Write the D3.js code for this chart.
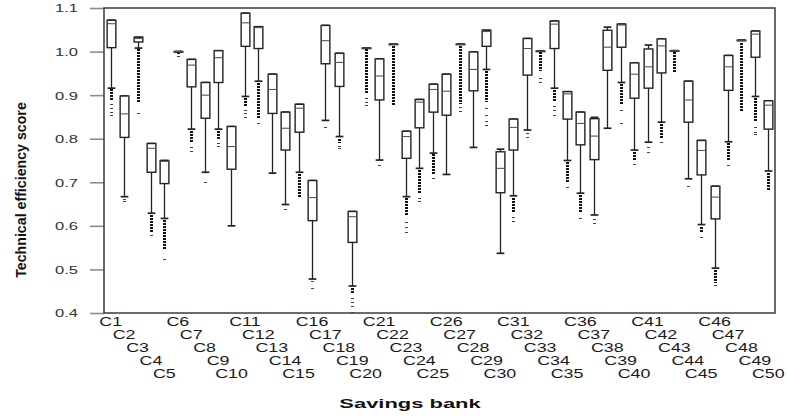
<!DOCTYPE html>
<html>
<head>
<meta charset="utf-8">
<script src="https://cdn.jsdelivr.net/npm/d3@7"></script>
<style>
  html, body { margin: 0; padding: 0; background: #fff; }
  svg { display: block; font-family: "Liberation Sans", Arial, sans-serif; }
</style>
</head>
<body>
<svg id="chart" width="787" height="418"></svg>
<script>
// Savings banks on the category axis
const banks = ["C1","C2","C3","C4","C5","C6","C7","C8","C9","C10",
  "C11","C12","C13","C14","C15","C16","C17","C18","C19","C20",
  "C21","C22","C23","C24","C25","C26","C27","C28","C29","C30",
  "C31","C32","C33","C34","C35","C36","C37","C38","C39","C40",
  "C41","C42","C43","C44","C45","C46","C47","C48","C49","C50"];

// Box-plot statistics of the technical efficiency score per bank
const whiskerHigh = [1.072,0.898,1.033,0.789,0.750,1.000,0.982,0.929,1.002,0.828,
  1.088,1.057,0.948,0.861,0.879,0.704,1.060,0.996,0.633,1.008,
  0.983,1.017,0.817,0.890,0.925,0.948,1.017,0.999,1.049,0.776,
  0.845,1.030,1.001,1.070,0.908,0.861,0.849,1.056,1.063,0.974,
  1.015,1.029,1.002,0.932,0.796,0.691,0.991,1.026,1.047,0.887];
const upperQuartile = [1.072,0.898,1.033,0.789,0.750,1.000,0.982,0.929,1.002,0.828,
  1.088,1.057,0.948,0.861,0.879,0.704,1.060,0.996,0.633,1.008,
  0.983,1.017,0.817,0.890,0.925,0.948,1.017,0.999,1.049,0.770,
  0.845,1.030,1.001,1.070,0.908,0.861,0.846,1.049,1.063,0.974,
  1.006,1.029,1.002,0.932,0.796,0.691,0.991,1.026,1.047,0.887];
const medianScore = [1.064,0.857,1.030,0.778,0.748,1.000,0.969,0.900,0.986,0.782,
  1.066,1.055,0.913,0.824,0.870,0.665,1.025,0.975,0.621,1.008,
  0.944,1.017,0.805,0.884,0.913,0.909,1.017,0.959,1.046,0.732,
  0.826,1.007,1.001,1.063,0.903,0.835,0.806,1.010,1.061,0.948,
  0.965,1.013,1.002,0.889,0.773,0.666,0.965,1.026,1.040,0.877];
const lowerQuartile = [1.009,0.803,1.022,0.723,0.697,1.000,0.919,0.847,0.929,0.730,
  1.012,1.007,0.858,0.774,0.815,0.612,0.972,0.920,0.562,1.008,
  0.889,1.017,0.755,0.825,0.861,0.854,1.017,0.910,1.012,0.676,
  0.774,0.946,1.001,1.007,0.845,0.786,0.752,0.957,1.010,0.893,
  0.916,0.951,1.002,0.838,0.717,0.616,0.911,1.026,0.987,0.822];
const whiskerLow = [0.916,0.667,1.008,0.629,0.617,1.000,0.822,0.723,0.822,0.600,
  0.897,0.932,0.721,0.649,0.723,0.478,0.842,0.805,0.462,1.008,
  0.751,1.017,0.667,0.732,0.767,0.718,1.017,0.780,0.959,0.537,
  0.669,0.820,1.001,0.916,0.750,0.675,0.625,0.824,0.929,0.774,
  0.792,0.838,1.002,0.708,0.603,0.503,0.793,1.026,0.897,0.726];

// Closely packed outliers, as [from, to] runs
const outlierRuns = [
  [[0.913,0.890]], [], [[1.005,0.885]], [[0.626,0.585]], [[0.614,0.545]],
  [[0.998,0.992]], [[0.818,0.790]], [], [[0.818,0.800]], [],
  [[0.894,0.875]], [[0.928,0.845]], [], [], [[0.720,0.665]],
  [], [], [[0.800,0.790]], [[0.458,0.445]], [[1.005,0.905]],
  [], [[1.012,0.874]], [[0.663,0.625]], [[0.728,0.675]], [[0.764,0.720]],
  [], [[1.012,0.880]], [], [[0.955,0.885]], [],
  [[0.665,0.630]], [], [[0.998,0.955]], [[0.912,0.885]], [[0.746,0.700]],
  [[0.671,0.630]], [], [], [[0.925,0.880]], [[0.770,0.750]],
  [], [[0.834,0.800]], [[0.998,0.950]], [], [[0.598,0.585]],
  [[0.498,0.470]], [[0.790,0.750]], [[1.020,0.862]], [[0.894,0.840]], [[0.722,0.680]]
];

// Isolated outliers
const outlierDots = [
  [0.880,0.870,0.862,0.855], [0.662,0.657], [0.858], [0.578], [0.525],
  [0.989], [0.780,0.772], [0.700], [0.790,0.783], [],
  [0.865,0.858,0.850], [0.836], [], [0.639], [],
  [0.474,0.457], [0.826], [0.783,0.778], [0.435,0.425,0.415,0.403], [0.893,0.885,0.878],
  [0.740], [], [0.610,0.598,0.587], [0.665,0.656], [0.709],
  [], [0.872,0.864], [], [0.870,0.855,0.840,0.832], [],
  [0.620,0.611], [0.812,0.805], [0.940,0.930], [0.875,0.865,0.855], [0.690],
  [0.617], [0.615,0.606], [], [0.865,0.835], [0.743],
  [0.780,0.770], [0.793], [], [0.692], [0.575],
  [0.464], [0.740], [], [0.828,0.815,0.810], []
];

const yTicks = [0.4,0.5,0.6,0.7,0.8,0.9,1.0,1.1];

const plot = { left: 104, right: 775, top: 8, bottom: 313 };
const svg = d3.select("#chart");

const x = d3.scaleBand().domain(banks)
  .range([plot.left, plot.right]).paddingInner(0.35).paddingOuter(0.175);
const y = d3.scaleLinear().domain([0.4, 1.1]).range([plot.bottom, plot.top]);

const ink = "#222";
const textStretch = 1.5;

// Y axis with long grey ticks
const yAxis = svg.append("g")
  .attr("transform", `translate(${plot.left},0)`)
  .call(d3.axisLeft(y).tickValues(yTicks).tickFormat(d3.format(".1f"))
    .tickSize(14).tickSizeOuter(0).tickPadding(12));
yAxis.select(".domain").remove();
yAxis.selectAll(".tick line").attr("stroke", "#8c8c8c").attr("stroke-width", 1.6);
yAxis.selectAll(".tick text")
  .attr("x", null).attr("dy", null)
  .attr("transform", `translate(-26,0) scale(${textStretch},1)`)
  .attr("dy", "0.36em")
  .attr("fill", "#333").attr("font-size", 11);

// Plot frame
svg.append("rect")
  .attr("x", plot.left).attr("y", plot.top)
  .attr("width", plot.right - plot.left).attr("height", plot.bottom - plot.top)
  .attr("fill", "none").attr("stroke", "#3a3a3a").attr("stroke-width", 1.5);

// Boxes
const rows = banks.map((b, i) => ({
  bank: b, hi: whiskerHigh[i], q3: upperQuartile[i], med: medianScore[i],
  q1: lowerQuartile[i], lo: whiskerLow[i], runs: outlierRuns[i], dots: outlierDots[i]
}));

const bw = x.bandwidth();
const g = svg.append("g").selectAll("g").data(rows).join("g")
  .attr("transform", d => `translate(${Math.round(x(d.bank) + bw / 2) + 0.5},0)`);

// outliers: packed runs as stacked dashes, plus isolated dashes
g.each(function(d) {
  const sel = d3.select(this);
  d.runs.forEach(r => {
    sel.append("line").attr("x1", 0).attr("x2", 0)
      .attr("y1", Math.round(y(r[0]))).attr("y2", Math.round(y(r[1])))
      .attr("stroke", "#111").attr("stroke-width", 3)
      .attr("stroke-dasharray", "2,1")
      .attr("shape-rendering", "crispEdges");
  });
  d.dots.forEach(v => {
    sel.append("line").attr("x1", -1.5).attr("x2", 1.5)
      .attr("y1", Math.round(y(v)) + 0.5).attr("y2", Math.round(y(v)) + 0.5)
      .attr("stroke", "#444").attr("stroke-width", 1);
  });
});

// whiskers
g.append("line").attr("x1", 0).attr("x2", 0)
  .attr("y1", d => y(d.hi)).attr("y2", d => y(d.lo))
  .attr("stroke", ink).attr("stroke-width", 1.3);
// caps
g.append("line").attr("x1", -bw / 2 + 0.5).attr("x2", bw / 2 - 0.5)
  .attr("y1", d => y(d.hi)).attr("y2", d => y(d.hi))
  .attr("stroke", ink).attr("stroke-width", 1.7);
g.append("line").attr("x1", -bw / 2 + 0.5).attr("x2", bw / 2 - 0.5)
  .attr("y1", d => y(d.lo)).attr("y2", d => y(d.lo))
  .attr("stroke", ink).attr("stroke-width", 1.7);
// box
g.append("rect")
  .attr("x", -bw / 2).attr("width", bw)
  .attr("y", d => y(d.q3)).attr("height", d => Math.max(0.5, y(d.q1) - y(d.q3)))
  .attr("fill", "#fff").attr("stroke", ink).attr("stroke-width", 1.4);
// median
g.append("line").attr("x1", -bw / 2).attr("x2", bw / 2)
  .attr("y1", d => y(d.med)).attr("y2", d => y(d.med))
  .attr("stroke", "#555").attr("stroke-width", 1.1);

// Staggered bank labels
const rowBase = [326, 339, 352, 365, 378];
svg.append("g").selectAll("text").data(banks).join("text")
  .attr("transform", (d, i) => `translate(${x(d) + bw / 2},${rowBase[i % 5]}) scale(1.45,1)`)
  .attr("text-anchor", "middle")
  .attr("font-size", 12.3).attr("fill", "#1a1a1a")
  .text(d => d);

// Axis titles
svg.append("text")
  .attr("transform", `translate(410,408) scale(1.65,1)`)
  .attr("text-anchor", "middle").attr("font-weight", "bold")
  .attr("font-size", 13.3).attr("fill", "#111")
  .text("Savings bank");

svg.append("text")
  .attr("transform", "translate(25.5,190) rotate(-90)")
  .attr("text-anchor", "middle").attr("font-weight", "bold")
  .attr("font-size", 14.2).attr("fill", "#111")
  .text("Technical efficiency score");
</script>
</body>
</html>
